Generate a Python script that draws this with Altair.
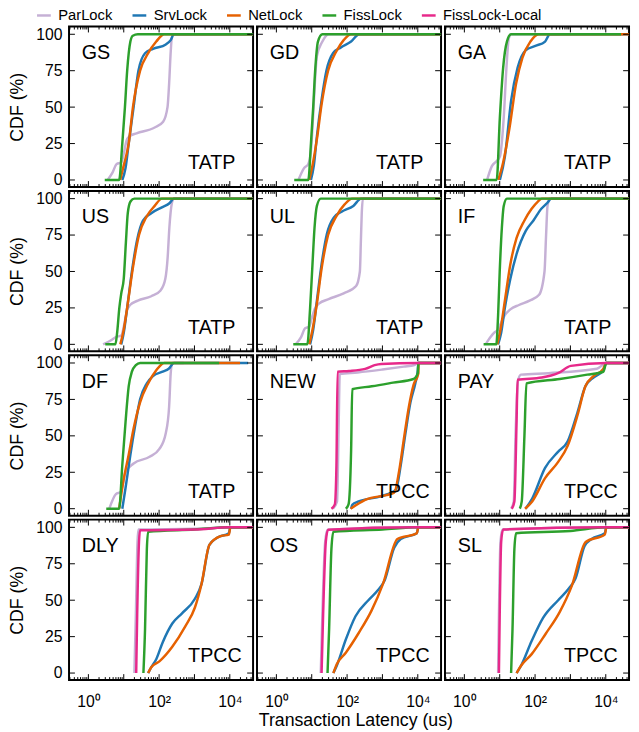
import altair as alt
import pandas as pd

SERIES = ["ParLock", "SrvLock", "NetLock", "FissLock", "FissLock-Local"]
COLORS = ["#c5b0d5", "#1f77b4", "#e66101", "#2ca02c", "#e7298a"]

PANEL_NAMES = ["GS", "GD", "GA", "US", "UL", "IF", "DF", "NEW", "PAY", "DLY", "OS", "SL"]
WORKLOADS = ["TATP"] * 7 + ["TPCC"] * 5

# latency (us) / CDF (%) pairs
GS = {
    "ParLock": ([3.5, 4.8, 6.3, 8.5, 10, 12, 14.5, 23, 75, 130, 173, 192, 213, 235, 1e5],
                [0, 5, 11, 12, 18, 27, 30, 32, 36, 40, 50, 66, 88, 100, 100]),
    "SrvLock": ([9.1, 11.2, 13.8, 19, 26, 40, 67, 155, 213, 263, 1e5],
                [0, 8, 25, 50, 75, 87, 90, 93, 96, 100, 100]),
    "NetLock": ([7.9, 10, 13.8, 18.2, 29, 49, 83, 140, 1e5],
                [0, 10, 25, 50, 75, 87, 95, 100, 100]),
    "FissLock": ([2.9, 7.4, 9.1, 10.8, 12.5, 15.4, 18, 25, 1e5],
                 [0, 0, 25, 50, 75, 95, 99, 100, 100]),
}
GD = {
    "ParLock": ([4.2, 6, 8, 9.5, 11, 12.5, 14, 20, 30, 1e5],
                [0, 8, 11, 20, 45, 70, 85, 95, 100, 100]),
    "SrvLock": ([9.5, 11.5, 14, 19, 26, 40, 67, 130, 220, 1e5],
                [0, 10, 30, 55, 75, 87, 91, 95, 100, 100]),
    "NetLock": ([8.5, 10.5, 14, 19, 29, 49, 80, 130, 1e5],
                [0, 10, 28, 52, 75, 88, 96, 100, 100]),
    "FissLock": ([3.2, 8.0, 9.5, 11, 12.5, 15, 20, 1e5],
                 [0, 0, 25, 50, 75, 95, 100, 100]),
}
GA = {
    "ParLock": ([4.4, 6, 8.2, 10.1, 13, 15.5, 18, 21, 500],
                [0, 9.5, 13, 16, 43, 77, 97, 100, 100]),
    "SrvLock": ([10.1, 14, 21, 32, 54, 102, 192, 263, 1e5],
                [0, 16, 54.5, 77, 89, 92, 95, 100, 100]),
    "NetLock": ([9.1, 12.5, 19, 29, 44, 74, 126, 1e5],
                [0, 12, 36, 66, 84, 95, 100, 100]),
    "FissLock": ([3.4, 8.2, 10.1, 12.5, 16, 21, 27000],
                 [0, 0, 43, 77, 95, 100, 100]),
}
US = {
    "ParLock": ([2.6, 4.5, 6, 8.5, 10, 12, 15, 25, 60, 110, 150, 175, 195, 230, 260, 1e5],
                [0, 3, 5, 6, 12, 22, 27, 30, 33, 37, 45, 60, 80, 97, 100, 100]),
    "SrvLock": ([8.5, 10, 12.5, 17, 24, 35, 60, 120, 200, 260, 1e5],
                [0, 8, 25, 50, 72, 85, 90, 94, 97, 100, 100]),
    "NetLock": ([8, 10, 13, 18, 27, 45, 75, 120, 1e5],
                [0, 10, 28, 52, 75, 88, 95, 100, 100]),
    "FissLock": ([3, 5.8, 6.5, 7.5, 8.5, 10, 11.5, 13, 15.5, 20, 1e5],
                 [0, 0, 8, 25, 35, 45, 70, 90, 98, 100, 100]),
}
UL = {
    "ParLock": ([3.5, 5, 6.5, 8.5, 10, 12.5, 16, 30, 80, 180, 230, 245, 260, 280, 1e5],
                [0, 5, 11, 12, 18, 25, 28, 31, 35, 40, 50, 70, 90, 100, 100]),
    "SrvLock": ([9, 11, 14, 19, 27, 42, 70, 150, 250, 1e5],
                [0, 10, 30, 55, 76, 87, 91, 95, 100, 100]),
    "NetLock": ([8.5, 10.5, 14, 19, 29, 50, 85, 140, 1e5],
                [0, 10, 28, 52, 75, 88, 96, 100, 100]),
    "FissLock": ([3, 7.5, 9, 10.5, 12, 14, 18, 1e5],
                 [0, 0, 25, 55, 80, 95, 100, 100]),
}
IF = {
    "ParLock": ([4, 5.5, 7, 9, 11, 14, 20, 35, 70, 130, 185, 205, 225, 260, 1e5],
                [0, 5, 8, 10, 15, 20, 24, 27, 30, 34, 50, 75, 95, 100, 100]),
    "SrvLock": ([9, 11, 14, 20, 30, 55, 90, 150, 220, 290, 1e5],
                [0, 8, 25, 45, 62, 78, 85, 93, 97, 100, 100]),
    "NetLock": ([8.5, 10.5, 14, 20, 30, 50, 80, 120, 155, 1e5],
                [0, 10, 30, 55, 73, 85, 93, 98, 100, 100]),
    "FissLock": ([3.5, 8, 9, 10, 11.5, 13, 16, 1e5],
                 [0, 0, 20, 50, 80, 95, 100, 100]),
}
DF = {
    "ParLock": ([3.9, 6, 8.2, 11.2, 19, 54, 102, 155, 192, 213, 233, 500],
                [0, 10, 11.5, 25, 31, 35.6, 41, 52, 70, 93, 100, 100]),
    "SrvLock": ([9.1, 11.2, 15.4, 21, 29, 45, 67, 126, 187, 263, 33000],
                [0, 14, 37, 57, 75, 86, 91, 94, 96, 100, 100]),
    "NetLock": ([7.4, 10.1, 13.8, 19, 29, 49, 83, 140, 19500],
                [0, 21, 37, 55, 73, 86, 95, 100, 100]),
    "FissLock": ([3.2, 7.4, 9.1, 11.2, 13.8, 17, 22, 29, 5000],
                 [0, 0, 30, 59, 84, 94, 98.5, 100, 100]),
}
NEW = {
    "ParLock": ([40, 52, 58, 62, 200, 1000, 4000, 8000, 10400, 1e5],
                [0, 5, 60, 92.5, 93.5, 95.5, 97.5, 98.6, 100, 100]),
    "SrvLock": ([130, 140, 213, 930, 2400, 3300, 4500, 6200, 8500, 10000, 10400, 1e5],
                [0, 2.7, 5, 8.6, 13, 30, 52, 73, 86, 95, 100, 100]),
    "NetLock": ([126, 325, 2150, 2950, 4050, 5600, 7600, 10400, 10450, 1e5],
                [0, 6, 11, 25.5, 48, 70, 85, 93, 100, 100]),
    "FissLock": ([92, 110, 130, 140, 500, 2000, 7600, 10000, 10400, 1e5],
                 [0, 3, 40, 82, 84, 86.5, 89, 93, 100, 100]),
    "FissLock-Local": ([36, 45, 50, 54, 113, 325, 600, 930, 10000, 1e5],
                       [0, 3, 30, 94, 94.5, 96, 98.5, 99.3, 100, 100]),
}
PAY = {
    "ParLock": ([21, 25, 28, 33, 40, 240, 5600, 10400, 1e5],
                [0, 5, 50, 88, 92, 93, 96, 100, 100]),
    "SrvLock": ([54, 83, 192, 445, 830, 1580, 2650, 4500, 8500, 10400, 1e5],
                [0, 7, 28, 39, 46, 66, 84, 90, 95, 100, 100]),
    "NetLock": ([52, 83, 192, 445, 830, 1580, 2650, 4500, 8500, 10400, 1e5],
                [0, 5, 21, 32, 43, 64, 84, 91, 96, 100, 100]),
    "FissLock": ([37, 42, 50, 57, 500, 3000, 8500, 10400, 1e5],
                 [0, 5, 50, 86, 89, 92, 94, 100, 100]),
    "FissLock-Local": ([22, 26, 30, 32, 155, 445, 1030, 10400, 1e5],
                       [0, 5, 60, 88.5, 90, 93, 98, 100, 100]),
}
DLY = {
    "ParLock": ([20, 22, 24.5, 26, 1000, 10400, 1e5],
                [0, 40, 90, 98.5, 99, 100, 100]),
    "SrvLock": ([49, 60, 83, 126, 236, 445, 1030, 1580, 2650, 4500, 9400, 10400, 1e5],
                [0, 4, 9.5, 21, 34, 41, 51, 61, 88, 93, 96, 100, 100]),
    "NetLock": ([49, 60, 102, 236, 550, 1030, 1580, 2650, 5500, 9400, 10400, 1e5],
                [0, 4, 8, 18, 32, 45, 61, 88, 94, 95, 100, 100]),
    "FissLock": ([36, 40, 45, 49, 1000, 10400, 1e5],
                 [0, 30, 85, 97, 98.5, 100, 100]),
    "FissLock-Local": ([22.5, 24, 27, 29, 1000, 10400, 1e5],
                       [0, 40, 90, 98, 98.5, 100, 100]),
}
OS = {
    "ParLock": ([18, 20, 24, 28, 10400, 1e5],
                [0, 40, 90, 98.4, 100, 100]),
    "SrvLock": ([41, 51, 92, 173, 400, 750, 1150, 2150, 3300, 9400, 10400, 1e5],
                [0, 5, 23, 39, 50, 57, 63.5, 86, 92, 96, 100, 100]),
    "NetLock": ([41, 51, 92, 213, 495, 1030, 2650, 9400, 10400, 1e5],
                [0, 6, 14, 27.5, 43, 61, 92, 96, 100, 100]),
    "FissLock": ([28, 31, 36, 41, 1000, 10400, 1e5],
                 [0, 30, 85, 97, 98.5, 100, 100]),
    "FissLock-Local": ([19, 21, 25, 29, 10400, 1e5],
                       [0, 40, 90, 98.4, 100, 100]),
}
SL = {
    "ParLock": ([9, 9.5, 10.5, 12, 10400, 1e5],
                [0, 40, 90, 98.5, 100, 100]),
    "SrvLock": ([30, 40, 80, 170, 450, 900, 1400, 2500, 4000, 9400, 10400, 1e5],
                [0, 5, 22, 38, 50, 58, 65, 87, 92, 96, 100, 100]),
    "NetLock": ([30, 40, 80, 200, 500, 1100, 2700, 9400, 10400, 1e5],
                [0, 5, 13, 27, 42, 60, 90, 95, 100, 100]),
    "FissLock": ([21, 23, 26, 29, 1000, 10400, 1e5],
                 [0, 30, 85, 96, 97.5, 100, 100]),
    "FissLock-Local": ([9.5, 10, 11, 12.5, 10400, 1e5],
                       [0, 40, 90, 98.5, 100, 100]),
}

PANEL_DATA = [GS, GD, GA, US, UL, IF, DF, NEW, PAY, DLY, OS, SL]

X_MAJOR = [1, 10, 100, 1000, 10000]
X_MINOR = [0.3, 0.4, 0.5, 0.6, 0.7, 0.8, 0.9,
           2, 3, 4, 5, 6, 7, 8, 9,
           20, 30, 40, 50, 60, 70, 80, 90,
           200, 300, 400, 500, 600, 700, 800, 900,
           2000, 3000, 4000, 5000, 6000, 7000, 8000, 9000,
           20000, 30000, 40000]
Y_TICKS = [0, 25, 50, 75, 100]

W, H = 187, 163

rows = []
for p, (name, wl, data) in enumerate(zip(PANEL_NAMES, WORKLOADS, PANEL_DATA)):
    r, c = divmod(p, 3)
    rows.append(dict(kind="label", row=r, col=c, name=name, wl=wl))
    for v in X_MAJOR:
        rows.append(dict(kind="xmaj", row=r, col=c, x=v))
    for v in X_MINOR:
        rows.append(dict(kind="xmin", row=r, col=c, x=v))
    for v in Y_TICKS:
        rows.append(dict(kind="ytick", row=r, col=c, y=v))
    for s_i, s in enumerate(SERIES):
        if s not in data:
            continue
        xs, ys = data[s]
        for i, (xv, yv) in enumerate(zip(xs, ys)):
            rows.append(dict(kind="line", row=r, col=c, series=s, sidx=s_i,
                             i=i, x=xv, y=yv))
df = pd.DataFrame(rows)

FONT = "Liberation Sans"

xscale = alt.Scale(type="log", domain=[0.283, 45500], nice=False)
yscale = alt.Scale(domain=[-4.8, 105.3], nice=False, zero=False)

x_axis = alt.Axis(
    values=X_MAJOR,
    labelExpr="datum.value == 1 ? '10⁰' : datum.value == 100 ? '10²' : datum.value == 10000 ? '10⁴' : ''",
    ticks=False, title=None, labelFontSize=16, labelPadding=12, labelFlush=False, labelOverlap=False,
)
y_axis = alt.Axis(values=Y_TICKS, title="CDF (%)", titleFontSize=18, titleFontWeight="normal",
                  titlePadding=10, labelFontSize=16, ticks=False, labelPadding=5)

lines = alt.Chart().transform_filter("datum.kind == 'line'").mark_line(
    strokeWidth=2.5, clip=True, interpolate="monotone"
).encode(
    x=alt.X("x:Q", scale=xscale, axis=x_axis),
    y=alt.Y("y:Q", scale=yscale, axis=y_axis),
    color=alt.Color("series:N", scale=alt.Scale(domain=SERIES, range=COLORS),
                    legend=alt.Legend(title=None, orient="none", legendX=-34, legendY=-20,
                                      direction="horizontal",
                                      symbolType="stroke", symbolStrokeWidth=2.5, symbolSize=196,
                                      labelFontSize=15, columnPadding=14, labelOffset=6,
                                      padding=0)),
    detail="sidx:N",
    order=alt.Order("i:Q"),
)


def xticks(kind, y0, y1):
    return alt.Chart().transform_filter(f"datum.kind == '{kind}'").mark_rule(
        color="black", strokeWidth=1
    ).encode(x=alt.X("x:Q", scale=xscale), y=alt.value(y0), y2=alt.value(y1))


def yticks(x0, x1):
    return alt.Chart().transform_filter("datum.kind == 'ytick'").mark_rule(
        color="black", strokeWidth=1
    ).encode(y=alt.Y("y:Q", scale=yscale), x=alt.value(x0), x2=alt.value(x1))


tick_layers = [
    xticks("xmaj", 0, 6), xticks("xmaj", H, H - 6),
    xticks("xmin", 0, 3), xticks("xmin", H, H - 3),
    yticks(0, 6), yticks(W, W - 6),
]

names = alt.Chart().transform_filter("datum.kind == 'label'").mark_text(
    align="left", baseline="alphabetic", fontSize=20, font=FONT, color="black"
).encode(x=alt.value(13), y=alt.value(33), text="name:N")

wls = alt.Chart().transform_filter("datum.kind == 'label'").mark_text(
    align="left", baseline="alphabetic", fontSize=20, font=FONT, color="black"
).encode(x=alt.value(121), y=alt.value(145), text="wl:N")

layer = alt.layer(lines, *tick_layers, names, wls, data=df).properties(width=W, height=H)

chart = layer.facet(
    row=alt.Row("row:O", title=None, header=alt.Header(labels=False)),
    column=alt.Column("col:O", title=None, header=alt.Header(labels=False)),
    spacing=0,
).properties(
    title=alt.TitleParams("Transaction Latency (us)", orient="bottom", anchor="middle",
                          frame="bounds", dx=37, fontSize=18, fontWeight="normal", font=FONT,
                          offset=3),
    padding={"left": 0, "top": -7, "right": 0, "bottom": 0},
).configure_view(
    stroke="black", strokeWidth=2
).configure_axis(
    labelFont=FONT, titleFont=FONT, labelColor="black", titleColor="black",
    domain=False, grid=False,
).configure_legend(
    labelFont=FONT, labelColor="black"
)

chart.save("out.html", embed_options={"renderer": "svg", "actions": False})
